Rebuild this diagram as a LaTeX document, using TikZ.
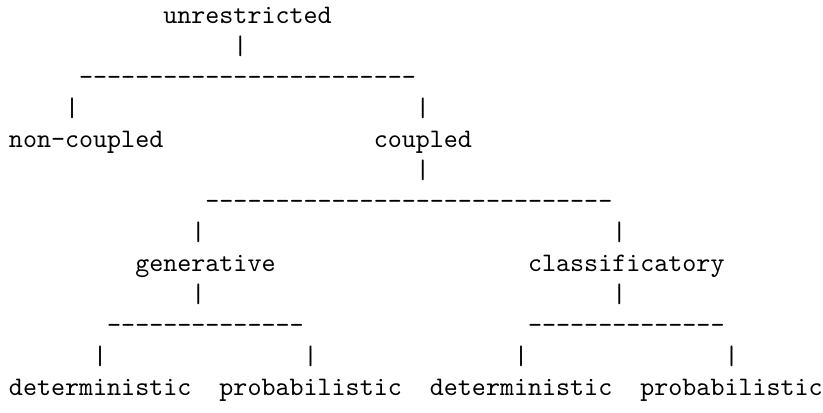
\documentclass[tikz,border=0pt]{standalone}
\tikzset{
  tok/.style={anchor=base west, inner sep=0pt, outer sep=0pt, font=\ttfamily},
}
\newcommand\dashrun[1]{\foreach \k in {1,...,#1}{\hbox{-}}}
\begin{document}
\begin{tikzpicture}[x=0.3742pt,y=0.3742pt]
\useasboundingbox (0,0) rectangle (823,-412);
% row 0
\node[tok] (unres) at ({9+14.03*11},{-23-31*0}) {unrestricted};
% row 1
\node[tok] (p1) at ({9+14.03*16},{-23-31*1}) {|};
% row 2
\node[tok] (d1) at ({9+14.03*5},{-23-31*2}) {\dashrun{24}};
% row 3
\node[tok] (p3a) at ({9+14.03*4},{-23-31*3}) {|};
\node[tok] (p3b) at ({9+14.03*29},{-23-31*3}) {|};
% row 4
\node[tok] (noncoupled) at ({9+14.03*0},{-23-31*4}) {non-coupled};
\node[tok] (coupled) at ({9+14.03*26},{-23-31*4}) {coupled};
% row 5
\node[tok] (p5) at ({9+14.03*29},{-23-31*5}) {|};
% row 6
\node[tok] (d6) at ({9+14.03*14},{-23-31*6}) {\dashrun{29}};
% row 7
\node[tok] (p7a) at ({9+14.03*13},{-23-31*7}) {|};
\node[tok] (p7b) at ({9+14.03*43},{-23-31*7}) {|};
% row 8
\node[tok] (gen) at ({9+14.03*9},{-23-31*8}) {generative};
\node[tok] (cls) at ({9+14.03*37},{-23-31*8}) {classificatory};
% row 9
\node[tok] (p9a) at ({9+14.03*13},{-23-31*9}) {|};
\node[tok] (p9b) at ({9+14.03*43},{-23-31*9}) {|};
% row 10
\node[tok] (d10a) at ({9+14.03*7},{-23-31*10}) {\dashrun{14}};
\node[tok] (d10b) at ({9+14.03*37},{-23-31*10}) {\dashrun{14}};
% row 11
\node[tok] (p11a) at ({9+14.03*6},{-23-31*11}) {|};
\node[tok] (p11b) at ({9+14.03*21},{-23-31*11}) {|};
\node[tok] (p11c) at ({9+14.03*36},{-23-31*11}) {|};
\node[tok] (p11d) at ({9+14.03*51},{-23-31*11}) {|};
% row 12
\node[tok] (det1) at ({9+14.03*0},{-23-31*12}) {deterministic};
\node[tok] (prob1) at ({9+14.03*15},{-23-31*12}) {probabilistic};
\node[tok] (det2) at ({9+14.03*30},{-23-31*12}) {deterministic};
\node[tok] (prob2) at ({9+14.03*45},{-23-31*12}) {probabilistic};
\end{tikzpicture}
\end{document}
